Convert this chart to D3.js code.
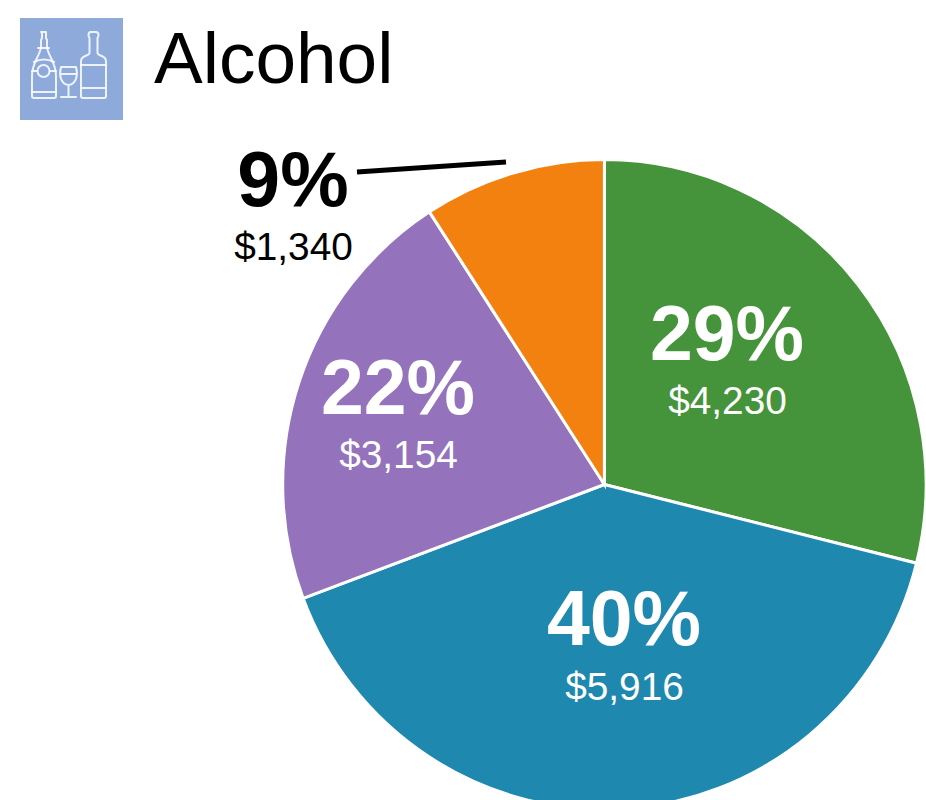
<!DOCTYPE html>
<html>
<head>
<meta charset="utf-8">
<script src="https://cdn.jsdelivr.net/npm/d3@7"></script>
<style>
  html, body { margin: 0; padding: 0; background: #fff; }
  svg { display: block; }
  text { font-family: "Liberation Sans", Arial, sans-serif; }
</style>
</head>
<body>
<svg width="926" height="800"></svg>
<script>
const title = "Alcohol";
const categories = ["a", "b", "c", "d"];
const amounts = [4230, 5916, 3154, 1340];
const percentLabels = ["29%", "40%", "22%", "9%"];
const amountLabels = ["$4,230", "$5,916", "$3,154", "$1,340"];
const sliceColors = ["#45943b", "#1f88ae", "#9473bc", "#f3810f"];

const svg = d3.select("svg");
// the reference pie is very slightly taller than wide
const cx = 604.4, cy = 484.5, radius = 321.7, stretchY = 1.01;

// label anchors, by slice
const labelX = [727, 624, 398, 293],
      labelY = [360, 645, 414, 206],
      amountY = [414, 700, 468, 260],
      labelFill = ["#fff", "#fff", "#fff", "#000"];

const rows = categories.map((c, i) => ({ key: c, value: amounts[i], i }));

const pie = d3.pie().sort(null).value(d => d.value);
const arc = d3.arc().innerRadius(0).outerRadius(radius);

svg.append("g")
   .attr("transform", `translate(${cx},${cy}) scale(1,${stretchY})`)
   .selectAll("path")
   .data(pie(rows))
   .join("path")
     .attr("d", arc)
     .attr("fill", d => sliceColors[d.data.i])
     .attr("stroke", "#fff")
     .attr("stroke-width", 3);

// leader line for the small slice
svg.append("line")
   .attr("x1", 357).attr("y1", 172)
   .attr("x2", 506).attr("y2", 162)
   .attr("stroke", "#000")
   .attr("stroke-width", 5);

// labels
const labels = svg.selectAll("g.label")
  .data(rows)
  .join("g")
    .attr("class", "label")
    .attr("text-anchor", "middle")
    .attr("fill", d => labelFill[d.i]);

labels.append("text")
    .attr("x", d => labelX[d.i])
    .attr("y", d => labelY[d.i])
    .attr("font-size", 77)
    .attr("font-weight", "bold")
    .text(d => percentLabels[d.i]);

labels.append("text")
    .attr("x", d => labelX[d.i] + 0.5)
    .attr("y", d => amountY[d.i])
    .attr("font-size", 38.8)
    .text(d => amountLabels[d.i]);

// title
svg.append("text")
   .attr("x", 154)
   .attr("y", 83)
   .attr("font-size", 73)
   .attr("fill", "#000")
   .text(title);

// icon
const icon = svg.append("g");
icon.append("rect")
    .attr("x", 20).attr("y", 18)
    .attr("width", 103).attr("height", 102)
    .attr("fill", "#8eaadb");

const glyphs = icon.append("g")
    .attr("fill", "none")
    .attr("stroke", "#fff")
    .attr("stroke-opacity", 0.85)
    .attr("stroke-width", 2)
    .attr("stroke-linejoin", "round")
    .attr("stroke-linecap", "round");

// champagne bottle
glyphs.append("path").attr("d", "M41 32 h5 v6 l1 2 v7 c1 9 9 15 9 29 v20 q0 2 -2 2 h-20 q-2 0 -2 -2 v-20 c0 -14 8 -20 9 -29 v-7 l1 -2 v-6 z");
glyphs.append("path").attr("d", "M38 48 h11 M32 71 h5 M50 71 h6 M32 92 h24 M34 62 q10 -5 20 0");
glyphs.append("circle").attr("cx", 43.5).attr("cy", 71).attr("r", 6);
// glass
glyphs.append("path").attr("d", "M61 67 h15 c2 7 1 17 -7.5 18 c-8.5 -1 -9.5 -11 -7.5 -18 z M68.5 85 v12 M61 97 h15 M60.5 74 h16");
// wine bottle
glyphs.append("path").attr("d", "M90 32 h6 q2.5 0 2.5 3 q0 2 -1 3 v15 c0 3 8.5 2 8.5 8 v35 q0 2 -2 2 h-21 q-2 0 -2 -2 v-35 c0 -6 8.5 -5 8.5 -8 v-15 q-1 -1 -1 -3 q0 -3 2.5 -3 z");
glyphs.append("path").attr("d", "M81 65 h25 M81 88 h25");
</script>
</body>
</html>
